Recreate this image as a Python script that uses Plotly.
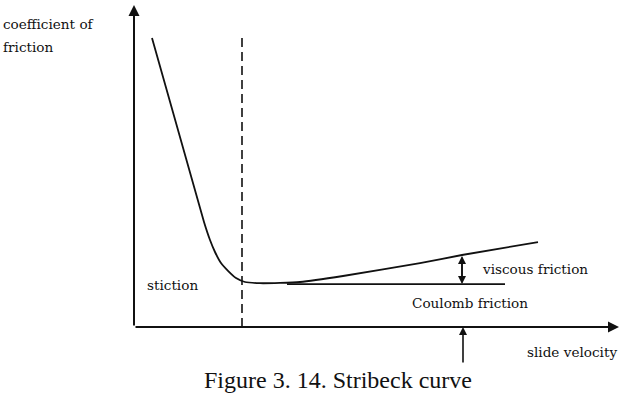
import plotly.graph_objects as go

# Stribeck curve (arbitrary units)
velocity = [0.36, 1.40, 1.52, 1.62, 1.74, 1.88, 2.04, 2.22, 2.52, 2.92, 3.32, 4.18, 5.72, 6.56, 8.08]
friction = [0.963, 0.350, 0.290, 0.250, 0.213, 0.187, 0.163, 0.150, 0.146, 0.147, 0.150, 0.170, 0.213, 0.240, 0.283]

coulomb_v = [3.06, 7.42]
coulomb_mu = [0.143, 0.143]

stiction_v = [2.16, 2.16]
stiction_mu = [0.0, 0.973]

viscous_arrow_v = 6.56
viscous_arrow_mu = [0.143, 0.237]

marker_arrow_v = 6.58
marker_arrow_mu = [-0.123, 0.0]

axis_x_max = 9.7
axis_y_max = 1.073

LABEL_FONT = dict(family="DejaVu Serif", size=13.6, color="#111")

fig = go.Figure()
fig.add_trace(go.Scatter(x=velocity, y=friction, mode="lines",
                         line=dict(color="#111", width=1.8, shape="spline", smoothing=0.5),
                         hoverinfo="skip"))
fig.add_trace(go.Scatter(x=coulomb_v, y=coulomb_mu, mode="lines",
                         line=dict(color="#111", width=1.6), hoverinfo="skip"))
fig.add_trace(go.Scatter(x=stiction_v, y=stiction_mu, mode="lines",
                         line=dict(color="#111", width=1.6, dash="9px,5px"), hoverinfo="skip"))

def arrow(x0, y0, x1, y1, width=1.8, size=1.0):
    fig.add_annotation(x=x1, y=y1, ax=x0, ay=y0, xref="x", yref="y", axref="x", ayref="y",
                       text="", showarrow=True, arrowhead=2, arrowsize=size,
                       arrowwidth=width, arrowcolor="#111")

# axes
arrow(0, 0, 0, axis_y_max, 2.0, 1.1)
arrow(0, 0, axis_x_max, 0, 2.0, 1.1)
# viscous double arrow
arrow(viscous_arrow_v, viscous_arrow_mu[0], viscous_arrow_v, viscous_arrow_mu[1], 1.6, 1.0)
arrow(viscous_arrow_v, viscous_arrow_mu[1], viscous_arrow_v, viscous_arrow_mu[0], 1.6, 1.0)
# marker arrow below axis
arrow(marker_arrow_v, marker_arrow_mu[0], marker_arrow_v, marker_arrow_mu[1], 1.6, 1.0)

def label(text, x, y, xanchor="left", font=LABEL_FONT):
    fig.add_annotation(x=x, y=y, xref="x", yref="y", text=text, showarrow=False,
                       xanchor=xanchor, yanchor="middle", font=font)

label("coefficient of", -2.66, 1.01)
label("friction", -2.66, 0.935)
label("stiction", 0.22, 0.14)
label("viscous friction", 6.92, 0.193)
label("Coulomb friction", 5.52, 0.08)
label("slide velocity", 7.82, -0.083)
label("Figure 3. 14. Stribeck curve", 4.08, -0.177, xanchor="center",
      font=dict(family="Liberation Serif", size=24, color="#111"))

fig.update_layout(
    width=623, height=406, margin=dict(l=0, r=0, t=0, b=0),
    paper_bgcolor="white", plot_bgcolor="white", showlegend=False,
    xaxis=dict(range=[-2.68, 9.78], visible=False, fixedrange=True),
    yaxis=dict(range=[-0.26333, 1.09], visible=False, fixedrange=True),
)
fig.write_html("out.html")
